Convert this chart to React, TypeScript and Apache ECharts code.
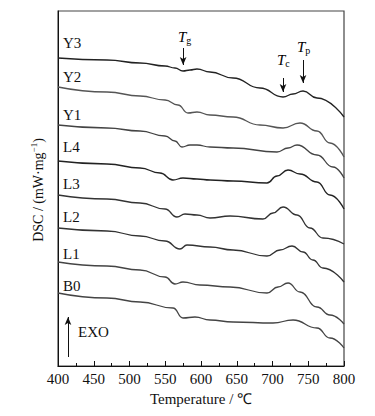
import React, { useEffect, useRef } from "react";
import * as echarts from "echarts";

const FONT = "Liberation Serif";

const xTicks = [400, 450, 500, 550, 600, 650, 700, 750, 800];

const seriesNames = ["Y3", "Y2", "Y1", "L4", "L3", "L2", "L1", "B0"];

// [temperature, offset DSC value (arbitrary units)]
const Y3: number[][] = [[400, 308], [468.5, 306], [514.7, 303], [549.7, 300], [563.6, 298], [574.8, 295], [584.6, 296], [594.4, 297], [612.6, 294], [644.8, 288], [682.5, 278], [714.7, 269], [728.7, 272], [742.7, 275], [762.2, 268], [800, 249]];
const Y2: number[][] = [[400, 279], [468.5, 274], [514.7, 270], [549.7, 266], [567.8, 261], [581.8, 253], [594.4, 254], [612.6, 251], [644.8, 249], [682.5, 241], [714.7, 238], [738.5, 243], [762.2, 235], [780.4, 223], [800, 209]];
const Y1: number[][] = [[400, 241], [468.5, 238], [514.7, 235], [549.7, 230], [563.6, 225], [573.4, 219], [584.6, 221], [594.4, 221], [612.6, 219], [644.8, 218], [706.3, 214], [721.7, 218], [734.3, 221], [762.2, 211], [784.6, 199], [800, 188]];
const L4: number[][] = [[400, 205], [468.5, 202], [514.7, 198], [542.7, 193], [560.8, 186], [574.8, 188], [594.4, 187], [612.6, 186], [644.8, 185], [692.3, 183], [706.3, 190], [721.7, 196], [738.5, 192], [762.2, 184], [780.4, 171], [800, 157]];
const L3: number[][] = [[400, 171], [468.5, 167], [514.7, 163], [549.7, 157], [566.4, 149], [577.6, 152], [594.4, 151], [612.6, 148], [640.6, 150], [686.7, 147], [700.7, 153], [714.7, 159], [734.3, 151], [752.4, 138], [770.6, 128], [800, 122]];
const L2: number[][] = [[400, 138], [468.5, 135], [514.7, 130], [549.7, 125], [570.6, 117], [580.4, 121], [612.6, 119], [644.8, 116], [692.3, 110], [710.5, 116], [727.3, 120], [742.7, 114], [756.6, 106], [770.6, 98], [800, 84]];
const L1: number[][] = [[400, 104], [468.5, 100], [514.7, 96], [549.7, 89], [563.6, 82], [574.8, 84], [598.6, 81], [640.6, 79], [692.3, 73], [707.7, 79], [721.7, 83], [738.5, 74], [762.2, 59], [780.4, 51], [800, 42]];
const B0: number[][] = [[400, 73], [468.5, 68], [514.7, 64], [560.8, 58], [574.8, 48], [591.6, 49], [612.6, 46], [644.8, 44], [700.7, 43], [728.7, 46], [762.2, 38], [780.4, 28], [800, 18]];

const curves = [Y3, Y2, Y1, L4, L3, L2, L1, B0];
const colors = ["#222", "#555", "#444", "#222", "#333", "#333", "#444", "#444"];

// arrows: [T, fromValue, toValue]
const arrowTg = [575, 318, 301];
const arrowTc = [714.7, 288, 274];
const arrowTp = [742.7, 306, 283];
const arrowExo = [414, 9, 49];

const labelTops = [35, 69, 107, 139, 176, 209, 246, 278];

export default function App() {
  const ref = useRef<HTMLDivElement>(null);
  useEffect(() => {
    if (!ref.current) return;
    const chart = echarts.init(ref.current, null, { renderer: "svg" });
    const arrowLine = (a: number[]) => [
      { coord: [a[0], a[1]] },
      { coord: [a[0], a[2]] },
    ];
    const series: any[] = curves.map((d, i) => ({
      name: seriesNames[i],
      type: "line",
      data: d,
      showSymbol: false,
      smooth: 0.5,
      smoothMonotone: "x",
      lineStyle: { color: colors[i], width: 1.3 },
      silent: true,
    }));
    series.push({
      type: "line",
      data: [],
      markLine: {
        silent: true,
        symbol: ["none", "arrow"],
        symbolSize: [5, 8],
        label: { show: false },
        lineStyle: { color: "#111", width: 1, type: "solid" },
        data: [arrowLine(arrowTg), arrowLine(arrowTc), arrowLine(arrowTp), arrowLine(arrowExo)],
      },
    });
    const tRich = {
      t: { fontFamily: FONT, fontStyle: "italic", fontSize: 15, color: "#111" },
      s: { fontFamily: FONT, fontSize: 10, color: "#111", padding: [8, 0, 0, 0] },
    };
    const graphic: any[] = seriesNames.map((n, i) => ({
      type: "text",
      left: 63,
      top: labelTops[i],
      style: { text: n, fontFamily: FONT, fontSize: 15, fill: "#111" },
    }));
    graphic.push(
      { type: "text", left: 78, top: 324, style: { text: "EXO", fontFamily: FONT, fontSize: 15, fill: "#111" } },
      { type: "text", left: 178, top: 29, style: { text: "{t|T}{s|g}", rich: tRich } },
      { type: "text", left: 277, top: 52, style: { text: "{t|T}{s|c}", rich: tRich } },
      { type: "text", left: 297, top: 39, style: { text: "{t|T}{s|p}", rich: tRich } },
      {
        type: "text",
        x: 38,
        y: 190,
        rotation: Math.PI / 2,
        style: {
          text: "DSC / (mW·mg{sup|−1})",
          fontFamily: FONT,
          fontSize: 14,
          fill: "#111",
          align: "center",
          verticalAlign: "middle",
          rich: { sup: { fontFamily: FONT, fontSize: 9, padding: [0, 0, 8, 0], fill: "#111" } },
        },
      }
    );
    chart.setOption({
      animation: false,
      backgroundColor: "#fff",
      grid: { left: 58, right: 31, top: 11, bottom: 50, show: true, borderColor: "#444", borderWidth: 1.2 },
      xAxis: {
        type: "value",
        min: xTicks[0],
        max: xTicks[xTicks.length - 1],
        interval: 50,
        name: "Temperature / ℃",
        nameLocation: "middle",
        nameGap: 25,
        nameTextStyle: { fontFamily: FONT, fontSize: 15, color: "#111" },
        axisLine: { lineStyle: { color: "#111", width: 1 } },
        axisTick: { inside: true, length: 5, lineStyle: { color: "#111" } },
        minorTick: { show: true, splitNumber: 2, length: 3, lineStyle: { color: "#111" } },
        axisLabel: { fontFamily: FONT, fontSize: 15, color: "#111", margin: 5, showMaxLabel: true },
        splitLine: { show: false },
      },
      yAxis: {
        type: "value",
        min: 0,
        max: 355,
        axisLine: { show: true, lineStyle: { color: "#111" } },
        axisTick: { show: false },
        axisLabel: { show: false },
        splitLine: { show: false },
      },
      series,
      graphic,
    });
    return () => chart.dispose();
  }, []);
  return (
    <div
      ref={ref}
      style={{ position: "absolute", left: 0, top: 0, width: 375, height: 416 }}
    />
  );
}
